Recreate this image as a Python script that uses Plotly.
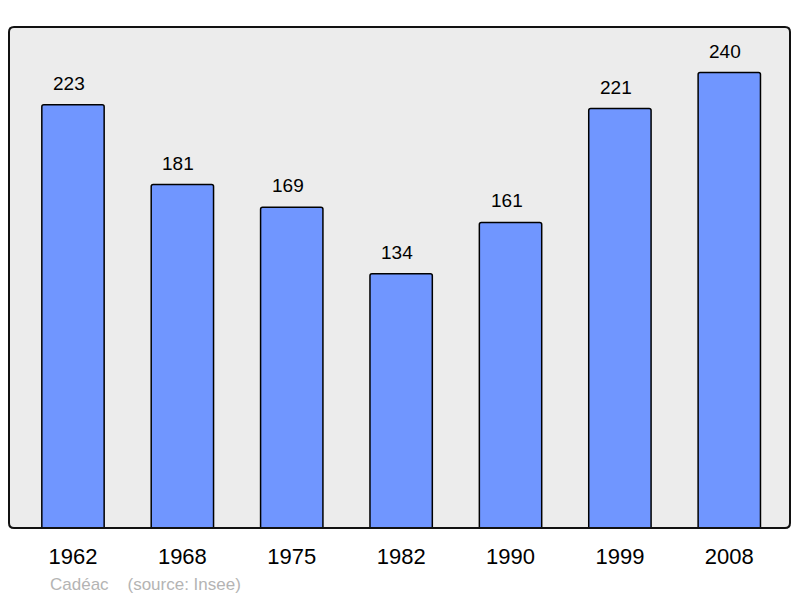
import plotly.graph_objects as go

years = ["1962", "1968", "1975", "1982", "1990", "1999", "2008"]
population = [223, 181, 169, 134, 161, 221, 240]

fig = go.Figure()
fig.add_trace(go.Bar(
    x=list(range(len(years))), y=population,
    width=0.57,
    marker=dict(color="#7096ff", line=dict(color="#000000", width=1.5), cornerradius=2),
    hovertext=years, hoverinfo="text+y",
))

# value labels above the bars
for i, val in enumerate(population):
    fig.add_annotation(x=i, y=val, text=str(val), showarrow=False,
                       yanchor="bottom", yshift=9, xshift=-4,
                       font=dict(family="Liberation Sans, Arial", size=19, color="#000"))

# rounded frame around the plot area (paper coords)
rx, ry = 5 / 781, 5 / 501
path = (f"M {rx},0 L {1-rx},0 Q 1,0 1,{ry} L 1,{1-ry} Q 1,1 {1-rx},1 "
        f"L {rx},1 Q 0,1 0,{1-ry} L 0,{ry} Q 0,0 {rx},0 Z")
fig.add_shape(type="path", xref="paper", yref="paper", path=path,
              line=dict(color="#111", width=2), fillcolor="rgba(0,0,0,0)", layer="above")

fig.add_annotation(xref="paper", yref="paper", x=0.05, y=-0.112, xanchor="left", yanchor="middle",
                   text="Cadéac    (source: Insee)", showarrow=False,
                   font=dict(family="Liberation Sans, Arial", size=17, color="#b4b4b4"))

fig.update_layout(
    width=792, height=590,
    margin=dict(l=1, r=10, t=19, b=70),
    paper_bgcolor="white",
    plot_bgcolor="#ececec",
    showlegend=False,
    font=dict(family="Liberation Sans, Arial", color="#000"),
    xaxis=dict(range=[-0.585, 6.555], showgrid=False, zeroline=False,
               tickmode="array", tickvals=list(range(len(years))), ticktext=years,
               tickfont=dict(size=22), ticks="", ticklabelstandoff=13),
    yaxis=dict(range=[0, 264], visible=False, showgrid=False, zeroline=False),
)

fig.write_html("out.html")
